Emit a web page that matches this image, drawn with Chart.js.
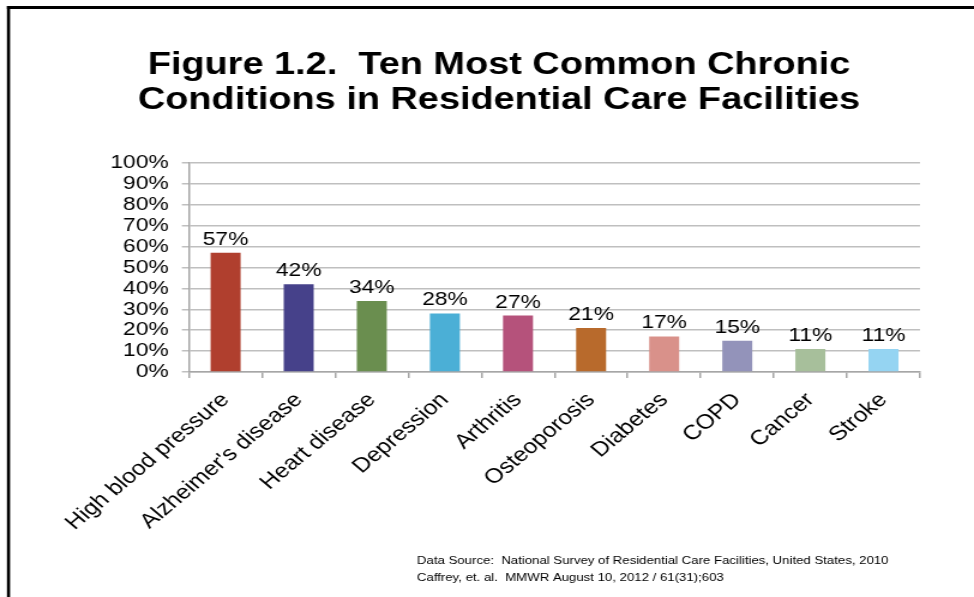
<!DOCTYPE html>
<html><head><meta charset="utf-8">
<script src="https://cdn.jsdelivr.net/npm/chart.js@4.4.1/dist/chart.umd.min.js"></script>
<style>
html,body{margin:0;padding:0;background:#fff;overflow:hidden}
#wrap{width:974px;height:597px;overflow:hidden;position:relative}
#c{position:absolute;left:0;top:0;transform-origin:0 0;transform:scaleX(1.19951)}
</style></head><body>
<div id="wrap"><canvas id="c" width="812" height="597"></canvas></div>
<script>
const FONT = '"Liberation Sans", Arial, sans-serif';
const titleLines = ['Figure 1.2.  Ten Most Common Chronic', 'Conditions in Residential Care Facilities'];
const categories = ['High blood pressure', "Alzheimer's disease", 'Heart disease', 'Depression', 'Arthritis', 'Osteoporosis', 'Diabetes', 'COPD', 'Cancer', 'Stroke'];
const values = [57, 42, 34, 28, 27, 21, 17, 15, 11, 11];
const barColors = ['#B03F2E', '#46418A', '#6A8E4F', '#4BAFD6', '#B5527B', '#B86A2C', '#D9918A', '#9393BA', '#A7BF9B', '#95D4F2'];
const yTickValues = [0, 10, 20, 30, 40, 50, 60, 70, 80, 90, 100];
const footerLines = ['Data Source:  National Survey of Residential Care Facilities, United States, 2010', 'Caffrey, et. al.  MMWR August 10, 2012 / 61(31);603'];

const framePlugin = {
  id: 'frame',
  beforeDraw(chart) {
    const ctx = chart.ctx;
    ctx.save();
    ctx.fillStyle = '#fff';
    ctx.fillRect(0, 0, chart.width, chart.height);
    ctx.fillStyle = '#000';
    ctx.fillRect(5.8, 6, 2.6, chart.height);
    ctx.fillRect(5.8, 6, chart.width, 3);
    ctx.restore();
  }
};
const valueLabelPlugin = {
  id: 'valueLabels',
  afterDatasetsDraw(chart) {
    const ctx = chart.ctx;
    const meta = chart.getDatasetMeta(0);
    ctx.save();
    ctx.font = '19px ' + FONT;
    ctx.fillStyle = '#000';
    ctx.textAlign = 'center';
    ctx.textBaseline = 'alphabetic';
    meta.data.forEach((el, i) => {
      ctx.fillText(values[i] + '%', el.x, el.y - 8);
    });
    ctx.restore();
  }
};
const footerPlugin = {
  id: 'footer',
  afterDraw(chart) {
    const ctx = chart.ctx;
    ctx.save();
    ctx.font = '11px ' + FONT;
    ctx.fillStyle = '#000';
    ctx.textAlign = 'left';
    ctx.textBaseline = 'alphabetic';
    footerLines.forEach((t, i) => ctx.fillText(t, 347.6, 563.5 + i * 17));
    ctx.restore();
  }
};

new Chart(document.getElementById('c'), {
  type: 'bar',
  data: {
    labels: categories,
    datasets: [{
      data: values,
      backgroundColor: barColors,
      borderWidth: 0,
      barPercentage: 0.41,
      categoryPercentage: 1.0
    }]
  },
  options: {
    responsive: false,
    animation: false,
    devicePixelRatio: 1,
    layout: { padding: { left: 65, right: 45, top: 0, bottom: 0 } },
    plugins: {
      legend: { display: false },
      tooltip: { enabled: false },
      title: {
        display: true,
        text: titleLines,
        color: '#000',
        font: { family: FONT, size: 31.6, weight: 'bold', lineHeight: 35 / 31.6 },
        padding: { top: 48, bottom: 45 }
      }
    },
    scales: {
      x: {
        grid: { display: true, drawOnChartArea: false, drawTicks: true, tickLength: 6, color: '#a6a6a6', lineWidth: 1.5, offset: true },
        border: { color: '#a6a6a6', width: 1.5 },
        ticks: { color: '#000', font: { family: FONT, size: 20.5 }, minRotation: 45, maxRotation: 45, autoSkip: false, padding: 10 },
        afterFit(s) { s.height = 597 - 372; }
      },
      y: {
        min: 0, max: 100,
        afterBuildTicks(s) { s.ticks = yTickValues.map(v => ({ value: v })); },
        ticks: { color: '#000', font: { family: FONT, size: 19 }, padding: 11, autoSkip: false, callback: v => v + '%' },
        grid: { color: '#bfbfbf', lineWidth: 1.5, tickLength: 6 },
        border: { color: '#a6a6a6', width: 1.5 },
        afterFit(s) { s.width = 92.6; }
      }
    }
  },
  plugins: [framePlugin, valueLabelPlugin, footerPlugin]
});
</script>
</body></html>
